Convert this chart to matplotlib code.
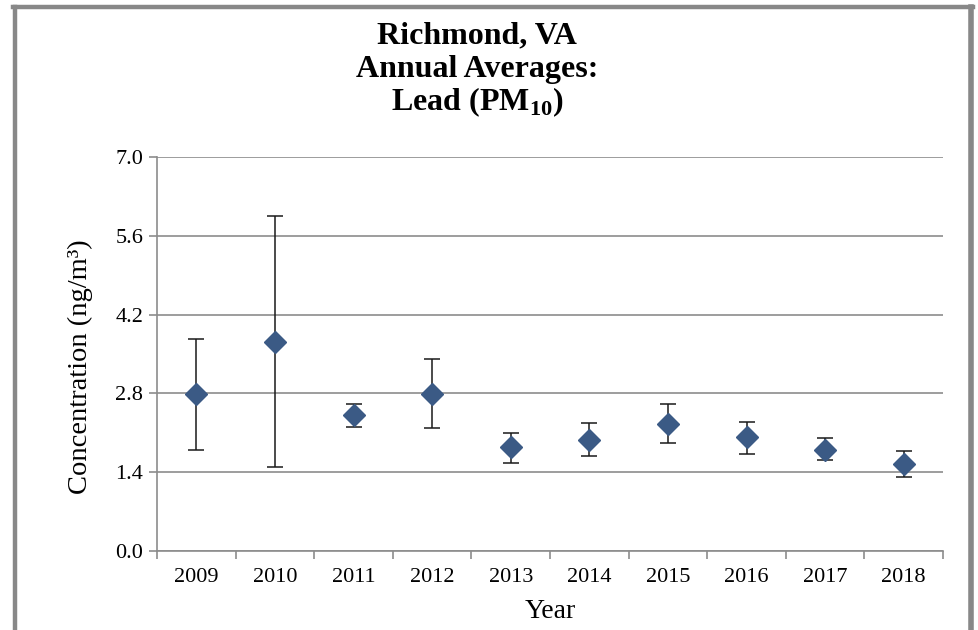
import matplotlib
matplotlib.use("Agg")
import matplotlib.pyplot as plt
from matplotlib.lines import Line2D

years = ["2009", "2010", "2011", "2012", "2013", "2014", "2015", "2016", "2017", "2018"]
means = [2.79, 3.71, 2.42, 2.79, 1.85, 1.98, 2.26, 2.03, 1.80, 1.54]
upper = [3.77, 5.96, 2.61, 3.42, 2.10, 2.28, 2.62, 2.30, 2.00, 1.77]
lower = [1.79, 1.50, 2.21, 2.19, 1.57, 1.68, 1.91, 1.72, 1.61, 1.31]
yticks = [0.0, 1.4, 2.8, 4.2, 5.6, 7.0]
title_lines = ["Richmond, VA", "Annual Averages:", "Lead (PM$_{\\mathbf{10}}$)"]

plt.rcParams["font.family"] = ["Liberation Serif", "DejaVu Serif"]
plt.rcParams["mathtext.fontset"] = "custom"
plt.rcParams["mathtext.rm"] = "Liberation Serif"
plt.rcParams["mathtext.bf"] = "Liberation Serif:bold"

W, H = 979, 630
fig = plt.figure(figsize=(W / 100, H / 100), dpi=100)
ax = fig.add_axes([157 / W, 1 - 551 / H, (943 - 157) / W, (551 - 157) / H])

xs = list(range(len(years)))
yerr = [[m - lo for m, lo in zip(means, lower)], [u - m for m, u in zip(means, upper)]]
ax.errorbar(xs, means, yerr=yerr, fmt="none", ecolor="#1a1a1a", elinewidth=1.1,
            capsize=5.5, capthick=1.1, zorder=3)
ax.plot(xs, means, linestyle="none", marker="D", markersize=11.5,
        color="#3b5a85", markeredgecolor="#3b5a85", zorder=4)

ax.set_xlim(-0.5, len(years) - 0.5)
ax.set_ylim(0, 7.0)
ax.set_yticks(yticks)
ax.set_yticklabels([f"{v:.1f}" for v in yticks])
ax.set_xticks(xs)
ax.set_xticklabels(years)
ax.set_xticks([i - 0.5 for i in range(len(years) + 1)], minor=True)
ax.tick_params(axis="x", which="major", length=0, labelsize=16, pad=12)
ax.tick_params(axis="x", which="minor", length=6, direction="out", color="#8c8c8c", width=1.2)
ax.tick_params(axis="y", length=6, direction="out", color="#8c8c8c", width=1.2,
               labelsize=16, pad=4)

ax.grid(axis="y", color="#8c8c8c", linewidth=1.2)
ax.set_axisbelow(True)
for s in ["top", "right"]:
    ax.spines[s].set_visible(False)
for s in ["left", "bottom"]:
    ax.spines[s].set_color("#8c8c8c")
    ax.spines[s].set_linewidth(1.2)

ax.set_ylabel("Concentration (ng/m³)", fontsize=20.5)
ax.yaxis.set_label_coords(-0.082, 0.468)
ax.set_xlabel("Year", fontsize=20, labelpad=9)

# three-line title, one text per line so the spacing stays even
for line, base in zip(title_lines, [43, 77, 110]):
    fig.text(477 / W, 1 - base / H, line, ha="center", va="baseline",
             fontsize=23, fontweight="bold")

# outer frame (bottom edge cropped off in the original)
fc = "#888888"
fig.add_artist(Line2D([15 / W, 15 / W], [0, 1 - 7 / H], color=fc, linewidth=3.2,
                      transform=fig.transFigure))
fig.add_artist(Line2D([13 / W, 973 / W], [1 - 7 / H, 1 - 7 / H], color=fc, linewidth=3.2,
                      transform=fig.transFigure))
fig.add_artist(Line2D([971 / W, 971 / W], [0, 1 - 7 / H], color=fc, linewidth=4.0,
                      transform=fig.transFigure))

fig.savefig("out.png", dpi=100)
